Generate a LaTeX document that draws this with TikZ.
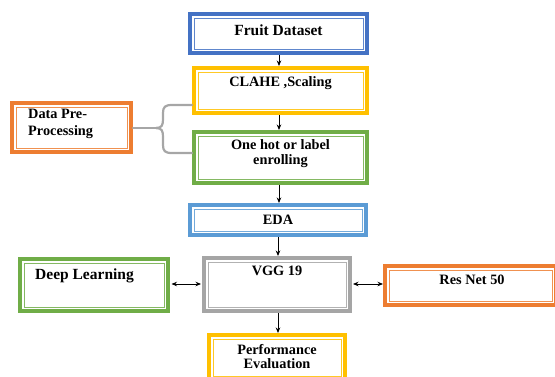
\documentclass[tikz,border=0pt]{standalone}
\usepackage{fontspec}
\setmainfont{Liberation Serif}
\usetikzlibrary{arrows.meta,calc}
\definecolor{cblue}{HTML}{4472C4}
\definecolor{cgold}{HTML}{FFC000}
\definecolor{cgreen}{HTML}{70AD47}
\definecolor{corange}{HTML}{ED7D31}
\definecolor{clblue}{HTML}{5B9BD5}
\definecolor{cgray}{HTML}{A5A5A5}
\definecolor{braceg}{HTML}{A6A6A6}
\newcommand\innerframe[2]{\draw[#2!85, line width=0.9pt] ([shift={(6,6)}]#1.north west) rectangle ([shift={(-6,-6)}]#1.south east);}
\begin{document}
\begin{tikzpicture}[x=1pt,y=-1pt,
  box/.style={draw=#1, line width=4pt, inner sep=0pt, fill=white},
  txt/.style={font=\bfseries\fontsize{14.3}{15}\selectfont, inner sep=0pt, align=center},
  arr/.style={-{Stealth[length=5.5pt,width=4.5pt]}, line width=0.8pt},
  darr/.style={{Stealth[length=5.5pt,width=4.5pt]}-{Stealth[length=5.5pt,width=4.5pt]}, line width=0.8pt},
  brc/.style={draw=braceg, line width=2.2pt, line cap=round}]
\useasboundingbox (0,0) rectangle (555,376);
\clip (0,0) rectangle (555,376);

% boxes
\node[box=cblue, minimum width=177pt, minimum height=39pt,
  label={[txt, font=\bfseries\fontsize{15.5}{16}\selectfont, yshift=3.5pt]center:Fruit Dataset}] (fruit) at (278.5,33.5) {};
\node[box=cgold, minimum width=173pt, minimum height=45pt,
  label={[txt, yshift=7pt]center:CLAHE ,Scaling}] (clahe) at (280.5,90.5) {};
\node[box=cgreen, minimum width=173pt, minimum height=51pt,
  label={[txt, yshift=4pt]center:One hot or label\\enrolling}] (onehot) at (280.5,157.5) {};
\node[box=corange, minimum width=119pt, minimum height=49pt,
  label={[txt, align=left, anchor=west, xshift=18pt, yshift=4pt, font=\bfseries\fontsize{14.3}{17}\selectfont]west:Data Pre-\\Processing}] (dp) at (71.5,127.5) {};
\node[box=clblue, minimum width=176pt, minimum height=30pt,
  label={[txt]center:EDA}] (eda) at (278,220) {};
\node[box=cgray, minimum width=146pt, minimum height=53pt,
  label={[txt, yshift=14pt]center:VGG 19}] (vgg) at (277,284.5) {};
\node[box=cgreen, minimum width=148pt, minimum height=52pt,
  label={[txt, anchor=west, xshift=17pt, yshift=9pt, font=\bfseries\fontsize{15.5}{16}\selectfont]west:Deep Learning}] (deep) at (94,285) {};
\node[box=corange, minimum width=171pt, minimum height=39pt,
  label={[txt, xshift=1.5pt, yshift=5.5pt]center:Res Net 50}] (res) at (470.5,285.5) {};
\node[box=cgold, minimum width=136pt, minimum height=45pt,
  label={[txt, yshift=1pt, font=\bfseries\fontsize{14.3}{13.5}\selectfont]center:Performance\\Evaluation}] (perf) at (277,357.5) {};

\innerframe{fruit}{cblue}
\innerframe{clahe}{cgold}
\innerframe{onehot}{cgreen}
\innerframe{dp}{corange}
\innerframe{eda}{clblue}
\innerframe{vgg}{cgray}
\innerframe{deep}{cgreen}
\innerframe{res}{corange}
\innerframe{perf}{cgold}

% vertical arrows
\coordinate (axa) at (279,0);
\coordinate (axb) at (278,0);
\draw[arr] (fruit.south -| axa) -- (clahe.north -| axa);
\draw[arr] (clahe.south -| axa) -- (onehot.north -| axa);
\draw[arr] (onehot.south -| axa) -- (eda.north -| axa);
\draw[arr] (eda.south -| axb) -- (vgg.north -| axb);
\draw[arr] (vgg.south -| axb) -- (perf.north -| axb);

% horizontal double arrows
\coordinate (hy) at (0,284);
\draw[darr, shorten <=1.5pt, shorten >=1pt] (deep.east |- hy) -- (vgg.west |- hy);
\draw[darr, shorten <=1pt] (vgg.east |- hy) -- (res.west |- hy);

% brace
\coordinate (tip) at (156,128);
\coordinate (topy) at (0,105);
\coordinate (boty) at (0,153);
\draw[brc] (dp.east |- tip) -- (tip);
\draw[brc] (tip) .. controls (162,128) and (163,125) .. (163,119) -- (163,113)
  .. controls (163,107) and (165,105) .. (172,105) -- (clahe.west |- topy);
\draw[brc] (tip) .. controls (162,128) and (163,131) .. (163,137) -- (163,145)
  .. controls (163,151) and (165,153) .. (172,153) -- (onehot.west |- boty);
\end{tikzpicture}
\end{document}
